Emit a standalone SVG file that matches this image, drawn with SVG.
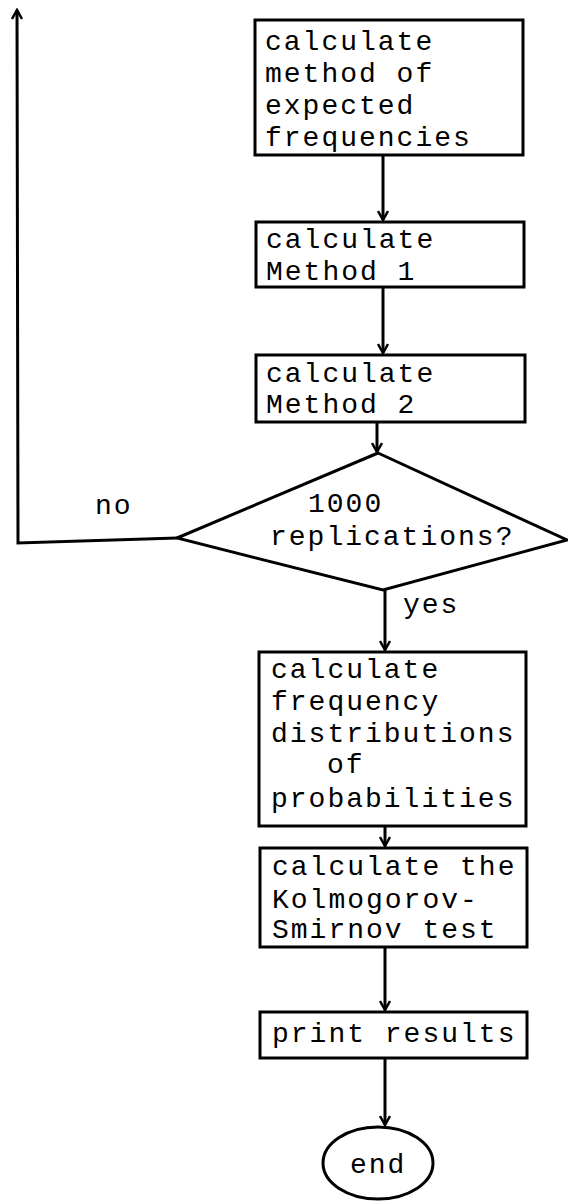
<svg xmlns="http://www.w3.org/2000/svg" width="568" height="1201" viewBox="0 0 568 1201">
<style>
.box{fill:#fff;stroke:#000;stroke-width:3}
.ln{fill:none;stroke:#000;stroke-width:3}
.t{font-family:"Liberation Mono","DejaVu Sans Mono",monospace;font-size:28px;letter-spacing:2px;fill:#000}
</style>
<defs>
<marker id="ah" viewBox="0 0 12 12" refX="10" refY="6" markerWidth="12" markerHeight="12" markerUnits="userSpaceOnUse" orient="auto">
<path d="M1,1 L10,6 L1,11" fill="none" stroke="#000" stroke-width="2.5"/>
</marker>
</defs>
<g id="connectors">
<line class="ln" x1="383" y1="155" x2="383" y2="220" marker-end="url(#ah)"/>
<line class="ln" x1="383" y1="287" x2="383" y2="353" marker-end="url(#ah)"/>
<line class="ln" x1="377" y1="422" x2="377" y2="452" marker-end="url(#ah)"/>
<line class="ln" x1="385" y1="590" x2="385" y2="650" marker-end="url(#ah)"/>
<line class="ln" x1="385" y1="826" x2="385" y2="846" marker-end="url(#ah)"/>
<line class="ln" x1="385" y1="947" x2="385" y2="1010" marker-end="url(#ah)"/>
<line class="ln" x1="385" y1="1058" x2="385" y2="1125" marker-end="url(#ah)"/>
<polyline class="ln" points="177,538 18,543 17,10" marker-end="url(#ah)"/>
<text class="t" x="95" y="514">no</text>
<text class="t" x="403" y="613">yes</text>
</g>
<g id="n1">
<rect class="box" x="255" y="20" width="268" height="135"/>
<text class="t" x="265" y="50">calculate</text>
<text class="t" x="265" y="82">method of</text>
<text class="t" x="265" y="114">expected</text>
<text class="t" x="265" y="146">frequencies</text>
</g>
<g id="n2">
<rect class="box" x="256" y="222" width="268" height="65"/>
<text class="t" x="266" y="248">calculate</text>
<text class="t" x="266" y="280">Method 1</text>
</g>
<g id="n3">
<rect class="box" x="256" y="355" width="269" height="67"/>
<text class="t" x="266" y="382">calculate</text>
<text class="t" x="266" y="413">Method 2</text>
</g>
<g id="n4">
<polygon class="box" points="378,453 567,540 383,590 177,538"/>
<text class="t" x="308" y="512">1000</text>
<text class="t" x="270" y="545">replications?</text>
</g>
<g id="n5">
<rect class="box" x="259" y="652" width="267" height="174"/>
<text class="t" x="271" y="678">calculate</text>
<text class="t" x="271" y="710">frequency</text>
<text class="t" x="271" y="742">distributions</text>
<text class="t" x="327" y="773">of</text>
<text class="t" x="271" y="807">probabilities</text>
</g>
<g id="n6">
<rect class="box" x="260" y="848" width="267" height="99"/>
<text class="t" x="272" y="875">calculate the</text>
<text class="t" x="272" y="908">Kolmogorov-</text>
<text class="t" x="272" y="938">Smirnov test</text>
</g>
<g id="n7">
<rect class="box" x="260" y="1012" width="267" height="46"/>
<text class="t" x="272" y="1042">print results</text>
</g>
<g id="n8">
<ellipse class="box" cx="378" cy="1163" rx="55" ry="36"/>
<text class="t" x="350" y="1173">end</text>
</g>
</svg>
